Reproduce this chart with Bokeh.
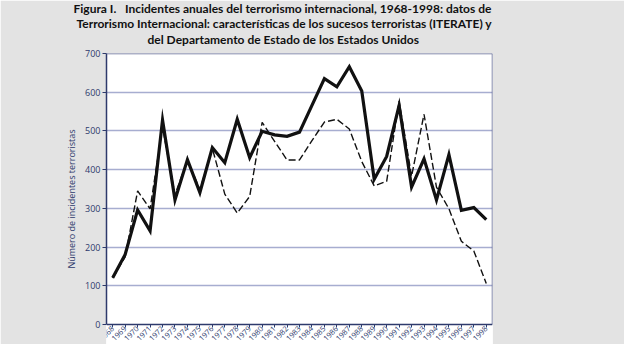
import math
from bokeh.plotting import figure
from bokeh.models import Title, FactorRange, Range1d, FixedTicker, BoxAnnotation, Span
from bokeh.embed import file_html
from bokeh.resources import INLINE

years = ["1968", "1969", "1970", "1971", "1972", "1973", "1974", "1975", "1976", "1977",
         "1978", "1979", "1980", "1981", "1982", "1983", "1984", "1985", "1986", "1987",
         "1988", "1989", "1990", "1991", "1992", "1993", "1994", "1995", "1996", "1997", "1998"]
iterate = [121, 181, 296, 242, 528, 322, 426, 341, 457, 418,
           530, 431, 499, 490, 486, 497, 566, 635, 614, 666,
           603, 375, 434, 566, 355, 428, 322, 439, 295, 302, 271]
departamento = [120, 175, 345, 299, 510, 335, 425, 348, 455, 337,
                288, 331, 522, 473, 425, 425, 475, 523, 530, 505,
                421, 358, 370, 577, 383, 543, 355, 299, 215, 190, 106]
y_ticks = [0, 100, 200, 300, 400, 500, 600, 700]
y_min, y_max = 0, 700

title_lines = [
    "Figura I.\u00a0\u00a0\u00a0Incidentes anuales del terrorismo internacional, 1968-1998: datos de",
    "Terrorismo Internacional: características de los sucesos terroristas (ITERATE) y",
    "del Departamento de Estado de los Estados Unidos",
]
y_label = "Número de incidentes terroristas"

NAVY = "#2e3a6c"
FRAME = "#5d6590"
FONT = "Open Sans"
TFONT = "Lato"

# the frame extends below 0 so the year labels (drawn at y=0) stay inside the frame
p = figure(width=624, height=344, output_backend="svg", toolbar_location=None,
           x_range=FactorRange(factors=years, range_padding=0),
           y_range=Range1d(-51.5, y_max),
           min_border_left=106, min_border_right=132, min_border_top=52, min_border_bottom=0,
           background_fill_color="white", border_fill_color="#e3e3e3")

# white page area behind the chart (grey strips at both sides)
page = BoxAnnotation(left=20, right=549, top=-50, bottom=1000,
                     left_units="canvas", right_units="canvas",
                     top_units="canvas", bottom_units="canvas",
                     fill_color="white", fill_alpha=1.0, line_color=None, level="image")
p.add_layout(page)

# small gap between the title block and the chart
p.add_layout(Title(text="\u00a0", text_font_size="4px", standoff=0), "above")

title_offsets = [-33, -30, 41]
title_standoffs = [-3, -1.5, -1.5]
for line, off, so in reversed(list(zip(title_lines, title_offsets, title_standoffs))):
    t = Title(text=line, align="left", offset=off, text_font=TFONT, text_font_size="12px",
              text_font_style="bold", text_color="#111111", standoff=so)
    p.add_layout(t, "above")

p.line(years, departamento, line_color="#111111", line_width=1.4, line_dash="7 3")
p.line(years, iterate, line_color="#111111", line_width=3.2, line_join="miter")

p.xgrid.visible = False
p.ygrid.grid_line_color = "#a7add0"
p.ygrid.grid_line_width = 1.4
p.ygrid.ticker = FixedTicker(ticks=y_ticks[1:-1])

# chart box: top and right edges
p.outline_line_color = None
p.add_layout(Span(location=y_max, dimension="width", line_color=FRAME, line_width=1.5))
p.segment(x0=[len(years)], y0=[y_min], x1=[len(years)], y1=[y_max],
          line_color=FRAME, line_width=1.5)

ya = p.yaxis[0]
ya.ticker = FixedTicker(ticks=y_ticks)
ya.bounds = (y_min, y_max)
ya.axis_label = y_label
ya.axis_label_text_font = FONT
ya.axis_label_text_font_size = "9px"
ya.axis_label_text_font_style = "normal"
ya.axis_label_text_color = NAVY
ya.axis_label_standoff = 4
ya.major_label_text_font = FONT
ya.major_label_text_font_size = "9px"
ya.major_label_text_color = NAVY
ya.major_tick_out = 4
ya.major_tick_in = 0
ya.minor_tick_out = 0
ya.axis_line_color = NAVY
ya.axis_line_width = 1.5
ya.major_tick_line_color = NAVY
ya.major_label_standoff = 2

xa = p.xaxis[0]
xa.fixed_location = y_min
xa.major_label_orientation = math.pi / 4
xa.major_label_text_font = FONT
xa.major_label_text_font_size = "7.5px"
xa.major_label_text_color = NAVY
xa.major_tick_out = 3
xa.major_tick_in = 0
xa.axis_line_color = NAVY
xa.axis_line_width = 1.5
xa.major_tick_line_color = NAVY
xa.major_label_standoff = 0

open("out.html", "w").write(file_html(p, INLINE))
